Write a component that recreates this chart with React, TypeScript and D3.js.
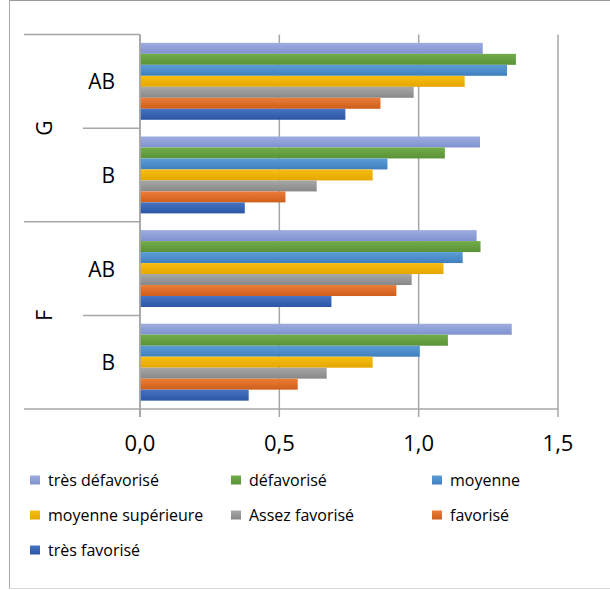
import React from "react";
import * as d3 from "d3";

// ---- data ----
const outerGroups = ["G", "F"];
const innerLabels = ["AB", "B"];
const categories = ["G-AB", "G-B", "F-AB", "F-B"];
const seriesNames = [
  "très défavorisé",
  "défavorisé",
  "moyenne",
  "moyenne supérieure",
  "Assez favorisé",
  "favorisé",
  "très favorisé",
];
const tresDefavorise = [1.23, 1.22, 1.208, 1.334];
const defavorise = [1.349, 1.094, 1.222, 1.105];
const moyenne = [1.317, 0.888, 1.158, 1.004];
const moyenneSuperieure = [1.165, 0.835, 1.089, 0.835];
const assezFavorise = [0.982, 0.634, 0.975, 0.67];
const favorise = [0.863, 0.522, 0.92, 0.566];
const tresFavorise = [0.737, 0.376, 0.687, 0.39];
const seriesValues = [
  tresDefavorise,
  defavorise,
  moyenne,
  moyenneSuperieure,
  assezFavorise,
  favorise,
  tresFavorise,
];
const xTicks = [0, 0.5, 1.0, 1.5];

// ---- styles ----
const colorsTop = ["#9dade0", "#72ad4a", "#5d9dd6", "#f6bf14", "#a7a7a7", "#ea7d38", "#4673c3"];
const colorsBottom = ["#8092cf", "#5a9236", "#3f7fbe", "#e5a600", "#888888", "#cf5f1b", "#2c56a6"];

const FONT = "'Open Sans', sans-serif";

export default function App() {
  const left = 140;
  const right = 558;
  const top = 34.5;
  const bottom = 409;

  const x = d3.scaleLinear().domain([0, 1.5]).range([left, right]);
  const y0 = d3.scaleBand<string>().domain(categories).range([top, bottom]).padding(0);
  const y1 = d3
    .scaleBand<string>()
    .domain(seriesNames)
    .range([0, y0.bandwidth()])
    .paddingInner(0)
    .paddingOuter(0.76);

  const fmt = (v: number) => d3.format(".1f")(v).replace(".", ",");
  const grid = "#a6a6a6";

  const legendCols = [30, 231, 432];
  const legendRows = [480, 515, 550];

  return (
    <svg
      width={610}
      height={590}
      style={{ position: "absolute", left: 0, top: 0, background: "#fff" }}
      fontFamily={FONT}
    >
      <defs>
        {seriesNames.map((s, i) => (
          <linearGradient key={s} id={`g${i}`} x1="0" y1="0" x2="0" y2="1">
            <stop offset="0" stopColor={colorsTop[i]} />
            <stop offset="1" stopColor={colorsBottom[i]} />
          </linearGradient>
        ))}
      </defs>
      {/* chart border */}
      <line x1={9.5} x2={610} y1={0.5} y2={0.5} stroke="#9a9a9a" />
      <line x1={9.5} x2={9.5} y1={0.5} y2={588.5} stroke="#a6a6a6" />
      <line x1={9.5} x2={610} y1={588.5} y2={588.5} stroke="#d9d9d9" />

      {/* gridlines */}
      {xTicks.map((t) => (
        <line
          key={t}
          x1={x(t)}
          x2={x(t)}
          y1={top}
          y2={417}
          stroke={t === 0 ? "#8c8c8c" : grid}
          strokeWidth={1.5}
        />
      ))}

      {/* bars */}
      {categories.map((c, ci) => (
        <g key={c} transform={`translate(0,${y0(c)})`}>
          {seriesNames.map((s, si) => (
            <rect
              key={s}
              x={x(0) + 0.75}
              y={y1(s)}
              width={x(seriesValues[si][ci]) - x(0) - 0.75}
              height={y1.bandwidth()}
              fill={`url(#g${si})`}
            />
          ))}
        </g>
      ))}

      {/* category axis separators */}
      {[0, 1, 2, 3].map((k) => {
        const yy = y0(categories[k]) as number;
        const x1 = k % 2 === 0 ? 24 : 83;
        return <line key={k} x1={x1} x2={left} y1={yy} y2={yy} stroke={grid} strokeWidth={1.5} />;
      })}
      <line x1={24} x2={right} y1={bottom} y2={bottom} stroke={grid} strokeWidth={1.5} />

      {/* inner category labels */}
      {categories.map((c, ci) => (
        <text
          key={c}
          x={115}
          y={(y0(c) as number) + y0.bandwidth() / 2}
          textAnchor="end"
          dominantBaseline="central"
          fontSize={21}
          fill="#000"
        >
          {innerLabels[ci % 2]}
        </text>
      ))}

      {/* outer group labels */}
      {outerGroups.map((g, gi) => {
        const yc = (y0(categories[gi * 2]) as number) + y0.bandwidth();
        return (
          <text
            key={g}
            transform={`translate(43.5,${yc}) rotate(-90)`}
            textAnchor="middle"
            dominantBaseline="central"
            fontSize={21}
            fill="#000"
          >
            {g}
          </text>
        );
      })}

      {/* x tick labels */}
      {xTicks.map((t) => (
        <text key={t} x={x(t)} y={451} textAnchor="middle" fontSize={22} fill="#000">
          {fmt(t)}
        </text>
      ))}

      {/* legend */}
      {seriesNames.map((s, i) => {
        const lx = legendCols[i % 3];
        const ly = legendRows[Math.floor(i / 3)];
        return (
          <g key={s}>
            <rect x={lx} y={ly - 4.5} width={10} height={9} fill={`url(#g${i})`} />
            <text x={lx + 18} y={ly} dominantBaseline="central" fontSize={16} fill="#000">
              {s}
            </text>
          </g>
        );
      })}
    </svg>
  );
}
